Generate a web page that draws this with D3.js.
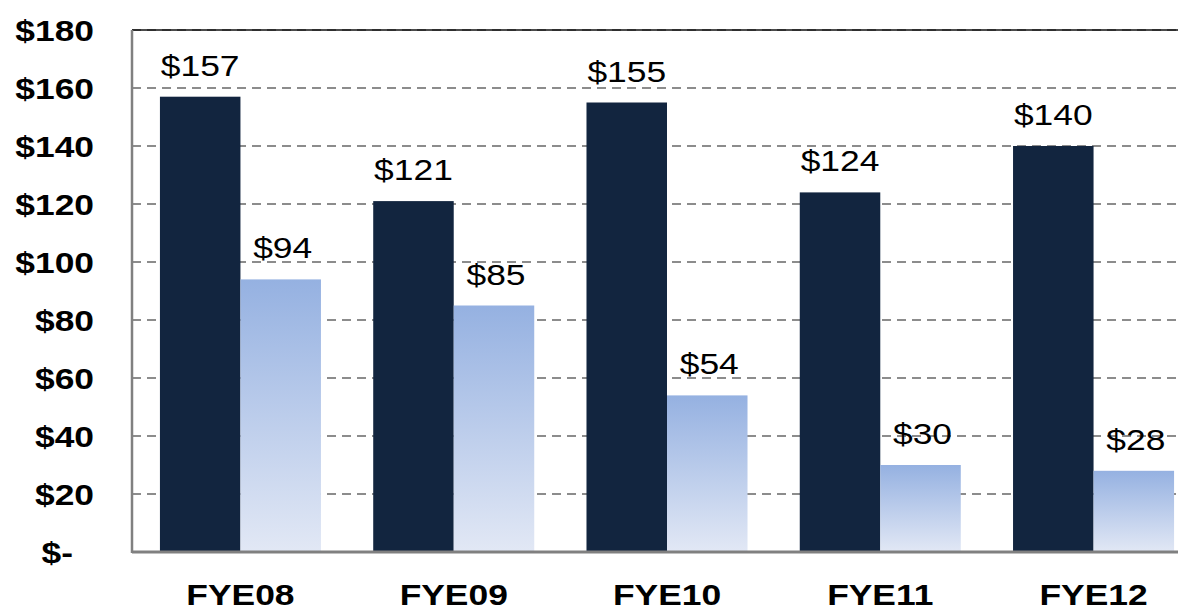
<!DOCTYPE html>
<html>
<head>
<meta charset="utf-8">
<script src="https://cdn.jsdelivr.net/npm/d3@7"></script>
<style>
  body { margin: 0; background: #fff; }
  svg { display: block; font-family: "Liberation Sans", Arial, sans-serif; }
</style>
</head>
<body>
<div id="chart"></div>
<script>
// data
const years = ["FYE08", "FYE09", "FYE10", "FYE11", "FYE12"];
const seriesA = [157, 121, 155, 124, 140];
const seriesB = [94, 85, 54, 30, 28];
const yTicks = [0, 20, 40, 60, 80, 100, 120, 140, 160, 180];

const width = 1178, height = 610;
const margin = {top: 30, right: -24, bottom: 58, left: 132};
const stretch = 1.18; // the original text is drawn a little wide

const svg = d3.select("#chart").append("svg")
    .attr("width", width)
    .attr("height", height);

// gradient for the lighter bars
const grad = svg.append("defs").append("linearGradient")
    .attr("id", "lightGrad")
    .attr("x1", 0).attr("y1", 0)
    .attr("x2", 0).attr("y2", 1);
grad.append("stop").attr("offset", "0%").attr("stop-color", "#95b1e1");
grad.append("stop").attr("offset", "100%").attr("stop-color", "#e2e8f5");

const x = d3.scaleBand()
    .domain(years)
    .range([margin.left, width - margin.right])
    .paddingInner(0.245)
    .paddingOuter(0.131);

const xSub = d3.scaleBand()
    .domain(["a", "b"])
    .range([0, x.bandwidth()]);

const y = d3.scaleLinear()
    .domain([0, 180])
    .range([height - margin.bottom, margin.top]);

// helper: place a stretched text at (px, py)
function wideText(sel, px, py) {
    return sel.attr("transform", (d, i) => `translate(${px(d, i)},${py(d, i)}) scale(${stretch},1)`);
}

// dashed gridlines
svg.append("g")
    .selectAll("line")
    .data(yTicks.filter(d => d > 0))
    .join("line")
    .attr("x1", margin.left)
    .attr("x2", width)
    .attr("y1", d => y(d))
    .attr("y2", d => y(d))
    .attr("stroke", "#8c8c8c")
    .attr("stroke-width", 2)
    .attr("stroke-dasharray", "9,6");

// top border
svg.append("line")
    .attr("x1", margin.left).attr("x2", width)
    .attr("y1", y(180)).attr("y2", y(180))
    .attr("stroke", "#111")
    .attr("stroke-width", 1.5);

// bars
const groups = svg.append("g")
    .selectAll("g")
    .data(years)
    .join("g")
    .attr("transform", d => `translate(${x(d)},0)`);

groups.append("rect")
    .attr("x", xSub("a"))
    .attr("width", xSub.bandwidth())
    .attr("y", (d, i) => y(seriesA[i]))
    .attr("height", (d, i) => y(0) - y(seriesA[i]))
    .attr("fill", "#12253f");

groups.append("rect")
    .attr("x", xSub("b"))
    .attr("width", xSub.bandwidth())
    .attr("y", (d, i) => y(seriesB[i]))
    .attr("height", (d, i) => y(0) - y(seriesB[i]))
    .attr("fill", "url(#lightGrad)");

// value labels
wideText(groups.append("text"),
    () => xSub("a") + xSub.bandwidth() / 2,
    (d, i) => y(seriesA[i]) - 21)
    .attr("text-anchor", "middle")
    .style("font-size", "30px")
    .attr("fill", "#000")
    .text((d, i) => "$" + seriesA[i]);

wideText(groups.append("text"),
    () => xSub("b") + xSub.bandwidth() / 2 + 2,
    (d, i) => y(seriesB[i]) - 21)
    .attr("text-anchor", "middle")
    .style("font-size", "30px")
    .attr("fill", "#000")
    .text((d, i) => "$" + seriesB[i]);

// axes lines
svg.append("line")
    .attr("x1", margin.left).attr("x2", margin.left)
    .attr("y1", y(180)).attr("y2", y(0) + 1)
    .attr("stroke", "#808080")
    .attr("stroke-width", 2.5);

svg.append("line")
    .attr("x1", margin.left).attr("x2", width)
    .attr("y1", y(0)).attr("y2", y(0))
    .attr("stroke", "#808080")
    .attr("stroke-width", 3);

// y tick labels
wideText(svg.append("g")
    .selectAll("text")
    .data(yTicks)
    .join("text"),
    d => d === 0 ? 73 : 94,
    d => y(d) + 11)
    .attr("text-anchor", "end")
    .style("font-size", "30px")
    .style("font-weight", "bold")
    .text(d => d === 0 ? "$-" : "$" + d);

// x labels
wideText(svg.append("g")
    .selectAll("text")
    .data(years)
    .join("text"),
    d => x(d) + x.bandwidth() / 2,
    () => 605)
    .attr("text-anchor", "middle")
    .style("font-size", "30px")
    .style("font-weight", "bold")
    .text(d => d);
</script>
</body>
</html>
